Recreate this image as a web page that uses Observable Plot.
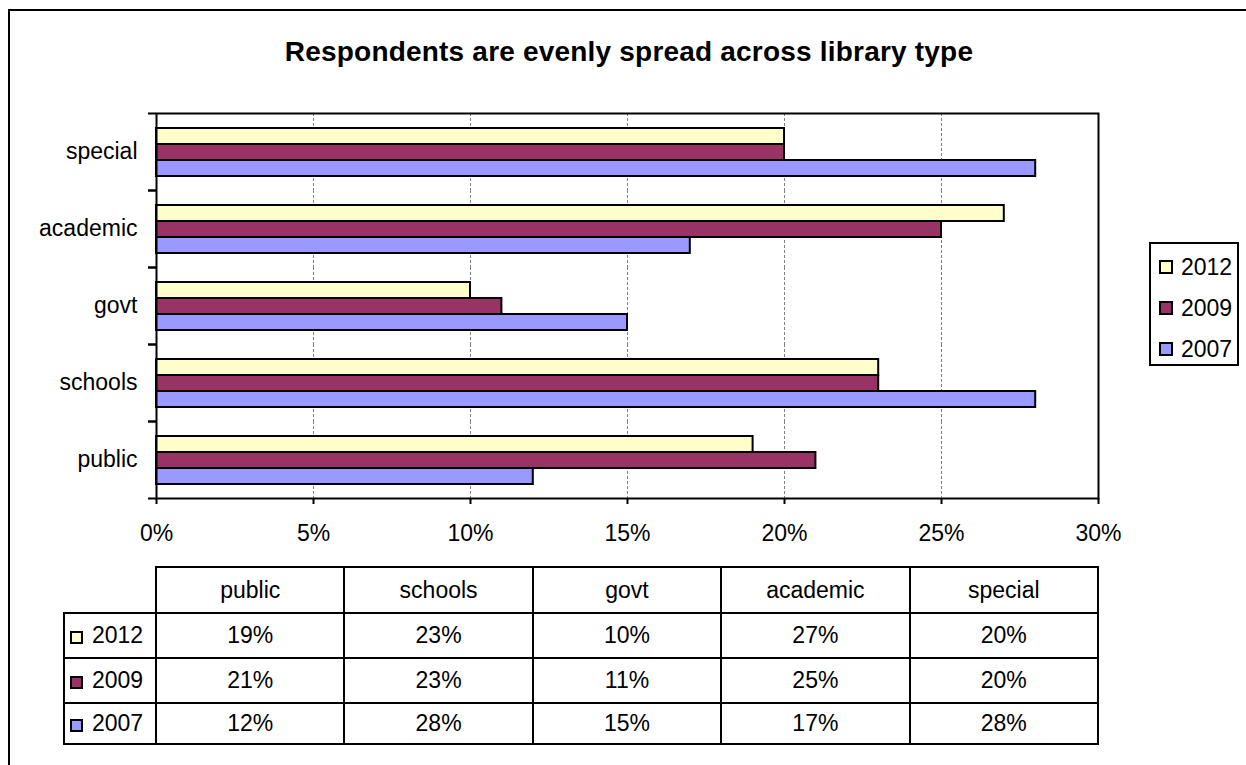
<!DOCTYPE html>
<html>
<head>
<meta charset="utf-8">
<script src="https://cdn.jsdelivr.net/npm/d3@7"></script>
<script src="https://cdn.jsdelivr.net/npm/@observablehq/plot@0.6"></script>
<style>
  body { margin: 0; background: #fff; font-family: "Liberation Sans", Arial, sans-serif; color: #000; }
  #page { position: relative; width: 1246px; height: 765px; overflow: hidden; background: #fff; }
  #border { position: absolute; left: 8px; top: 9px; width: 1300px; height: 800px;
            border-left: 2px solid #000; border-top: 2px solid #000; }
  #title { position: absolute; left: 0; width: 1258px; top: 38px; line-height: 28px;
           text-align: center; font-weight: bold; font-size: 28px; letter-spacing: 0.2px; }
  #chart { position: absolute; left: 0; top: 100px; }
  #legend { position: absolute; left: 1149px; top: 242px; width: 90px; height: 124px;
            box-sizing: border-box; border: 2px solid #000; background: #fff; }
  .lg-item { position: absolute; left: 8px; height: 24px; display: flex; align-items: center;
             font-size: 23px; line-height: 24px; }
  .swatch { display: inline-block; width: 14px; height: 14px; box-sizing: border-box;
            border: 2px solid #000; margin-right: 8px; }
  #datatable { position: absolute; left: 63px; top: 566px; border-collapse: collapse;
               table-layout: fixed; font-size: 23px; }
  #datatable td { border: 2px solid #000; text-align: center; padding: 0; }
  #datatable td.blank { border: none; }
  #datatable td.rowhead { text-align: left; padding-left: 5px; }
  #datatable td.rowhead .swatch { width: 13px; height: 13px; margin-right: 9px; vertical-align: -1px; }
</style>
</head>
<body>
<div id="page">
  <div id="border"></div>
  <div id="title">Respondents are evenly spread across library type</div>
  <div id="chart"></div>
  <div id="legend"></div>
  <table id="datatable"></table>
</div>
<script>
// Survey share of respondents by library type, one array per survey year
const categories = ["public", "schools", "govt", "academic", "special"];
const years = ["2012", "2009", "2007"];
const pct2012 = [19, 23, 10, 27, 20];
const pct2009 = [21, 23, 11, 25, 20];
const pct2007 = [12, 28, 15, 17, 28];
const yearColors = ["#FFFFCC", "#993366", "#9999FF"];
const xTicks = [0, 5, 10, 15, 20, 25, 30];

const series = { "2012": pct2012, "2009": pct2009, "2007": pct2007 };
const rows = years.flatMap(yr => categories.map((c, i) => ({ category: c, year: yr, value: series[yr][i] })));

const W = 1110, H = 460, mt = 13, mb = 62, ml = 156, mr = 12;
const step = (H - mt - mb) / categories.length;   // height of one category band

const chart = Plot.plot({
  width: W, height: H,
  marginLeft: ml, marginRight: mr, marginTop: mt, marginBottom: mb,
  style: { fontFamily: "'Liberation Sans', Arial, sans-serif", fontSize: "23px", color: "#000", background: "transparent", overflow: "visible" },
  x: { domain: [0, 30], axis: null },
  y: { domain: years, axis: null, paddingInner: 0, paddingOuter: 0.78 },
  fy: { domain: categories.slice().reverse(), padding: 0, axis: null },
  color: { domain: years, range: yearColors },
  marks: [
    Plot.gridX(xTicks.slice(1, -1), { stroke: "#808080", strokeOpacity: 1, strokeDasharray: "3,2", strokeWidth: 1 }),
    Plot.barX(rows, { x: "value", y: "year", fy: "category", fill: "year", stroke: "#000", strokeWidth: 2 }),
    // category names centred on each band
    Plot.axisFy({ anchor: "left", tickSize: 0, tickPadding: 19, label: null, fontSize: 23 }),
    // tick marks sit on the band boundaries
    Plot.axisFy({ anchor: "left", text: null, tickSize: 8, strokeWidth: 2, dy: -step / 2, label: null }),
    Plot.axisFy(categories.slice(0, 1), { anchor: "left", text: null, tickSize: 8, strokeWidth: 2, dy: step / 2, label: null }),
    Plot.axisX(xTicks, { anchor: "bottom", tickFormat: d => d + "%", tickSize: 6, tickPadding: 20, strokeWidth: 2, label: null, fontSize: 23 }),
    Plot.frame({ facet: "super", stroke: "#000", strokeWidth: 2 })
  ]
});
document.getElementById("chart").appendChild(chart);

// legend to the right of the plot
const legend = document.getElementById("legend");
years.forEach((yr, i) => {
  const item = document.createElement("div");
  item.className = "lg-item";
  item.style.top = (11 + i * 41) + "px";
  item.innerHTML = `<span class="swatch" style="background:${yearColors[i]}"></span>${yr}`;
  legend.appendChild(item);
});

// data table under the axis, columns spanning the plot width
const [x0, x1] = chart.scale("x").range;
const colW = (x1 - x0) / categories.length;
const table = document.getElementById("datatable");
const colgroup = document.createElement("colgroup");
colgroup.innerHTML = `<col style="width:${x0 - 64}px">` + categories.map(() => `<col style="width:${colW}px">`).join("");
table.appendChild(colgroup);
const head = table.insertRow();
head.style.height = "46px";
head.insertCell().className = "blank";
categories.forEach(c => { head.insertCell().textContent = c; });
const rowHeights = [45, 45, 41];
years.forEach((yr, i) => {
  const tr = table.insertRow();
  tr.style.height = rowHeights[i] + "px";
  const th = tr.insertCell();
  th.className = "rowhead";
  th.innerHTML = `<span class="swatch" style="background:${yearColors[i]}"></span>${yr}`;
  series[yr].forEach(v => { tr.insertCell().textContent = v + "%"; });
});
</script>
</body>
</html>
